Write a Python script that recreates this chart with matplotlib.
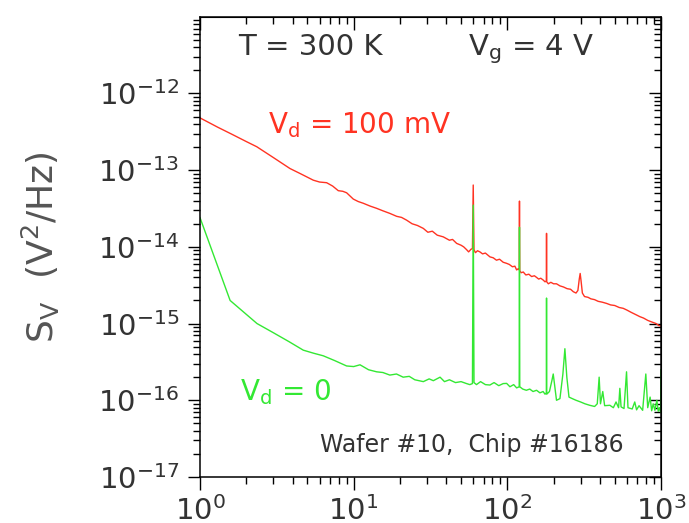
import matplotlib
matplotlib.use('Agg')
import matplotlib.pyplot as plt
from matplotlib.ticker import LogLocator, FixedLocator, NullFormatter

# DADOS (FREQUENCIA EM Hz, S_V EM V^2/Hz)
F_VD100 = [1, 1.3, 1.6, 2.0, 2.34, 3.0, 3.85, 4.5, 5.46, 6.0, 6.67, 7.3, 7.94, 8.5, 9.0,
           9.94, 10.7, 11.55, 12.8, 14.1, 15.5, 17.2, 19.05, 20.5, 22.1, 24, 26, 28.4,
           30.4, 32.5, 35, 38.3, 42, 44, 46.8, 50, 52, 54.3, 56, 58, 59.3, 60, 60.7, 62,
           64, 66.3, 69, 72, 77.1, 81, 85, 89, 94, 98.9, 103, 108, 112, 115, 118, 119.5,
           120, 120.5, 123, 127, 132, 138, 144, 150, 155, 160, 165, 171, 176, 179.5, 180,
           180.5, 185, 192, 200, 209, 220, 232, 245, 258, 269, 280, 288, 294, 298, 302,
           308, 318, 335, 350, 370, 390, 415, 443, 470, 500, 535, 568, 600, 640, 690,
           729, 770, 820, 870, 930, 970, 1000]
S_VD100 = [4.8e-13, 3.64e-13, 2.96e-13, 2.36e-13, 2.02e-13, 1.46e-13, 1.05e-13, 9.0e-14,
           7.4e-14, 7.0e-14, 6.86e-14, 6.2e-14, 5.4e-14, 5.3e-14, 5.07e-14,
           4.2e-14, 3.9e-14, 3.7e-14, 3.4e-14, 3.18e-14, 2.95e-14, 2.73e-14, 2.5e-14,
           2.42e-14, 2.23e-14, 2.0e-14, 1.9e-14, 1.74e-14,
           1.55e-14, 1.6e-14, 1.42e-14, 1.35e-14, 1.22e-14, 1.25e-14, 1.11e-14, 1.05e-14,
           1.0e-14, 9.2e-15, 8.6e-15, 9.3e-15, 9.5e-15, 6.4e-14, 9.2e-15, 8.4e-15,
           8.9e-15, 8.6e-15, 8.1e-15, 8.3e-15, 7.4e-15, 7.2e-15, 6.7e-15, 6.9e-15, 6.3e-15,
           6.1e-15, 5.9e-15, 5.5e-15, 5.6e-15, 5.0e-15, 5.2e-15, 5.0e-15,
           3.95e-14, 4.9e-15, 4.6e-15, 4.7e-15, 4.3e-15, 4.4e-15, 4.1e-15, 4.2e-15, 4.0e-15,
           3.8e-15, 3.9e-15, 3.7e-15, 3.5e-15, 3.6e-15, 1.5e-14,
           3.5e-15, 3.3e-15, 3.45e-15, 3.3e-15, 3.3e-15, 3.1e-15, 3.0e-15, 2.85e-15,
           2.8e-15, 2.6e-15, 2.5e-15, 2.7e-15, 3.8e-15, 4.5e-15, 3.6e-15,
           2.5e-15, 2.25e-15, 2.2e-15, 2.1e-15, 2.05e-15, 1.95e-15, 1.9e-15, 1.83e-15,
           1.75e-15, 1.72e-15, 1.62e-15, 1.58e-15, 1.5e-15, 1.4e-15, 1.3e-15,
           1.23e-15, 1.18e-15, 1.1e-15, 1.05e-15, 1.0e-15, 9.4e-16, 9.3e-16]

F_VD0 = [1, 1.57, 2.35, 3.0, 3.8, 4.7, 5.5, 6.34, 7.5, 9.0, 10.0, 11.0, 12.5, 14.1, 15.5,
         17.2, 19, 21, 23, 25, 28.4, 31, 33, 36.5, 39, 42, 46, 50, 54.3, 57, 59.3, 60,
         60.7, 63, 67, 72, 77, 82, 88, 94, 99, 104, 110, 115, 119.5, 120, 120.5, 126,
         133, 140, 147, 155, 163, 171, 176, 179.5, 180, 180.5, 188, 195, 199, 203, 209,
         220, 230, 237, 244, 252, 265, 280, 300, 320, 344, 370, 385, 396, 404, 418, 430,
         465, 490, 510, 530, 540, 550, 575, 597, 610, 650, 675, 694, 720, 760, 797, 820,
         850, 870, 890, 913, 940, 960, 980, 995, 1000]
S_VD0 = [2.4e-14, 2.0e-15, 1.0e-15, 7.6e-16, 5.8e-16, 4.5e-16, 4.1e-16, 3.8e-16, 3.3e-16,
         2.8e-16, 2.75e-16, 2.9e-16, 2.5e-16, 2.35e-16, 2.3e-16,
         2.13e-16, 2.2e-16, 2.0e-16, 2.05e-16, 1.85e-16, 1.75e-16, 1.9e-16, 1.8e-16,
         2.0e-16, 1.75e-16, 1.85e-16, 1.7e-16, 1.75e-16, 1.65e-16, 1.6e-16, 1.65e-16,
         3.5e-14,
         1.7e-16, 1.6e-16, 1.75e-16, 1.6e-16, 1.58e-16, 1.7e-16, 1.55e-16, 1.65e-16,
         1.66e-16, 1.5e-16, 1.6e-16, 1.45e-16, 1.5e-16, 1.8e-14, 1.5e-16, 1.4e-16,
         1.35e-16, 1.4e-16, 1.3e-16, 1.35e-16, 1.25e-16, 1.3e-16, 1.2e-16, 1.25e-16,
         2.15e-15, 1.2e-16, 1.3e-16, 1.8e-16, 2.2e-16, 1.6e-16, 1.0e-16,
         1.05e-16, 2.2e-16, 4.7e-16, 2.0e-16, 1.1e-16, 1.05e-16, 1.0e-16, 9.5e-17,
         9.0e-17, 8.6e-17, 8.3e-17, 9.0e-17, 2.0e-16, 9.0e-17, 1.3e-16, 8.5e-17,
         8.6e-17, 8.0e-17, 9.5e-17, 8.0e-17, 1.43e-16, 8.2e-17, 7.8e-17, 2.35e-16,
         8.0e-17, 7.7e-17, 9.5e-17, 7.5e-17, 8.5e-17, 7.4e-17, 2.2e-16, 8.0e-17,
         1.1e-16, 7.3e-17, 9.0e-17, 7.4e-17, 1.0e-16, 7.2e-17, 8.0e-17, 7.0e-17, 2.5e-16]

# TICKS PRINCIPAIS (O 10^-11 NAO TEM ROTULO NO ORIGINAL)
X_TICKS = [1, 10, 100, 1000]
Y_TICKS = [1e-17, 1e-16, 1e-15, 1e-14, 1e-13, 1e-12]

COR_VERMELHO = '#ff3322'
COR_VERDE = '#33e833'
COR_TEXTO = '#333333'

plt.rcParams['font.family'] = ['DejaVu Sans']
plt.rcParams['mathtext.fontset'] = 'dejavusans'

fig = plt.figure(figsize=(6.89, 5.23), dpi=100)
ax = fig.add_axes([0.2903, 0.088, 0.669, 0.880])

ax.plot(F_VD100, S_VD100, color=COR_VERMELHO, lw=1.0)
ax.plot(F_VD0, S_VD0, color=COR_VERDE, lw=1.0)

ax.set_xscale('log')
ax.set_yscale('log')
ax.set_xlim(1, 1000)
ax.set_ylim(1e-17, 1e-11)

ax.xaxis.set_major_locator(FixedLocator(X_TICKS))
ax.yaxis.set_major_locator(FixedLocator(Y_TICKS))
for eixo in (ax.xaxis, ax.yaxis):
    eixo.set_minor_locator(LogLocator(base=10, subs=range(2, 10), numticks=100))
    eixo.set_minor_formatter(NullFormatter())

ax.tick_params(which='both', direction='out', top=False, right=False,
               labelsize=21, labelcolor=COR_TEXTO, width=1.0)
ax.tick_params(which='major', length=9, pad=6)
ax.tick_params(axis='x', which='major', pad=4.5)
ax.tick_params(which='minor', length=5)
for lado in ax.spines.values():
    lado.set_linewidth(1.1)

# EIXOS DE CIMA E DA DIREITA COM TICKS PARA DENTRO
sec_x = ax.secondary_xaxis('top')
sec_y = ax.secondary_yaxis('right')
for sec, eixo in ((sec_x, sec_x.xaxis), (sec_y, sec_y.yaxis)):
    eixo.set_major_locator(LogLocator(base=10, numticks=20))
    eixo.set_minor_locator(LogLocator(base=10, subs=range(2, 10), numticks=100))
    eixo.set_major_formatter(NullFormatter())
    eixo.set_minor_formatter(NullFormatter())
    sec.tick_params(which='both', direction='in', width=1.0)
    sec.tick_params(which='major', length=9)
    sec.tick_params(which='minor', length=5)

ax.set_ylabel(r'S$_{\rm V}$  (V$^{\rm 2}$/Hz)', fontsize=26, color='#555555')
ax.yaxis.set_label_coords(-0.30, 0.5)

ax.text(0.082, 0.917, 'T = 300 K', transform=ax.transAxes, fontsize=21,
        color=COR_TEXTO, va='baseline')
ax.text(0.581, 0.917, r'V$_{\rm g}$ = 4 V', transform=ax.transAxes, fontsize=21,
        color=COR_TEXTO, va='baseline')
ax.text(0.1475, 0.748, r'V$_{\rm d}$ = 100 mV', transform=ax.transAxes, fontsize=20,
        color=COR_VERMELHO, va='baseline')
ax.text(0.087, 0.167, r'V$_{\rm d}$ = 0', transform=ax.transAxes, fontsize=20,
        color=COR_VERDE, va='baseline')
ax.text(0.260, 0.054, 'Wafer #10,  Chip #16186', transform=ax.transAxes, fontsize=17,
        color=COR_TEXTO, va='baseline')

fig.savefig('out.png', dpi=100)
